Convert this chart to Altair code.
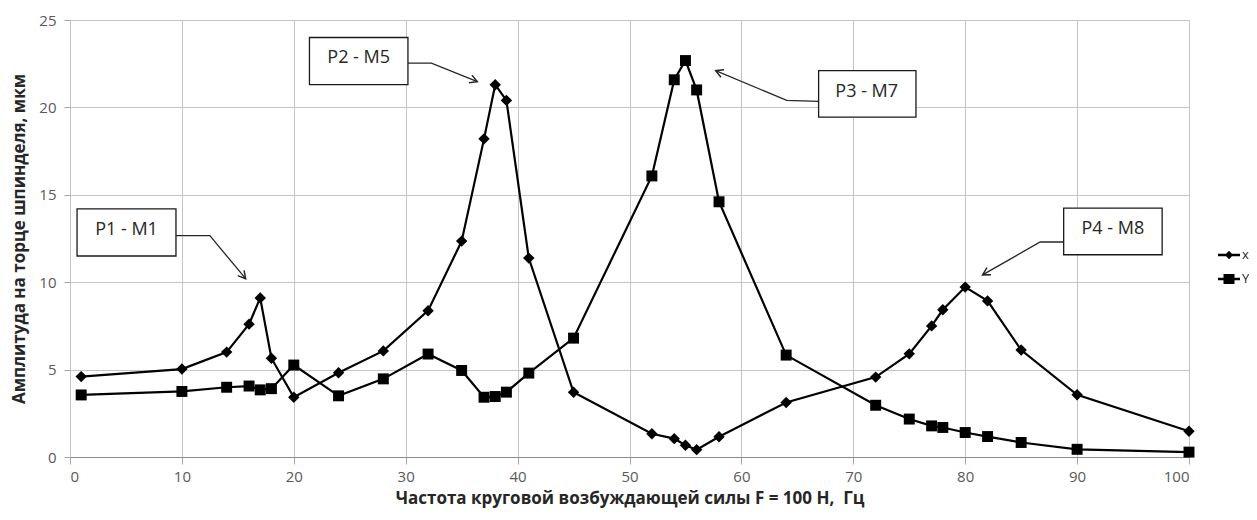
import math
import altair as alt
import pandas as pd

# ---- data ----
freq = [1, 10, 14, 16, 17, 18, 20, 24, 28, 32, 35, 37, 38, 39, 41, 45, 52, 54, 55, 56,
        58, 64, 72, 75, 77, 78, 80, 82, 85, 90, 100]
amp_x = [4.6, 5.03, 6.0, 7.6, 9.1, 5.65, 3.42, 4.82, 6.07, 8.37, 12.35, 18.2, 21.3, 20.4,
         11.38, 3.7, 1.33, 1.05, 0.67, 0.42, 1.16, 3.12, 4.57, 5.9, 7.5, 8.42, 9.72, 8.93,
         6.12, 3.56, 1.47]
amp_y = [3.55, 3.75, 3.99, 4.06, 3.84, 3.91, 5.26, 3.5, 4.47, 5.89, 4.95, 3.42, 3.46, 3.71,
         4.8, 6.8, 16.08, 21.58, 22.68, 21.0, 14.6, 5.83, 2.96, 2.17, 1.78, 1.69, 1.4, 1.17,
         0.83, 0.44, 0.28]
series_names = ["x", "Y"]

x_ticks = list(range(0, 101, 10))
y_ticks = [0, 5, 10, 15, 20, 25]

# annotation callouts (data units)
ann_labels = ["P1 - M1", "P2 - M5", "P3 - M7", "P4 - M8"]
box_x0 = [0.63, 21.4, 66.9, 88.8]
box_x1 = [9.47, 30.2, 75.6, 97.6]
box_y0 = [11.5, 21.3, 19.44, 11.57]
box_y1 = [14.2, 24.0, 22.1, 14.24]
text_x = [5.05, 25.8, 71.2, 93.2]
text_y = [13.0, 22.8, 20.9, 13.05]
lead_x = [[9.47, 12.5, 15.7], [30.2, 32.3, 36.4], [66.9, 64.05, 57.7], [88.8, 86.7, 81.55]]
lead_y = [[12.66, 12.66, 10.2], [22.53, 22.53, 21.47], [20.35, 20.4, 22.1], [12.3, 12.3, 10.42]]

W, H = 1119, 437
XMAX, YMAX = 100, 25
FONT = "Open Sans"

df = pd.DataFrame({
    "freq": freq * 2,
    "amp": amp_x + amp_y,
    "series": [series_names[0]] * len(freq) + [series_names[1]] * len(freq),
})

boxes = pd.DataFrame({"label": ann_labels, "x0": box_x0, "x1": box_x1,
                      "y0": box_y0, "y1": box_y1, "tx": text_x, "ty": text_y})

lead_rows = []
head_rows = []
for i, lab in enumerate(ann_labels):
    for j, (lx, ly) in enumerate(zip(lead_x[i], lead_y[i])):
        lead_rows.append({"label": lab, "o": j, "lx": lx, "ly": ly})
    dx = (lead_x[i][-1] - lead_x[i][-2]) * W / XMAX
    dy = -(lead_y[i][-1] - lead_y[i][-2]) * H / YMAX
    ang = math.degrees(math.atan2(dx, -dy)) % 360
    head_rows.append({"label": lab, "hx": lead_x[i][-1], "hy": lead_y[i][-1], "ang": ang})
leads = pd.DataFrame(lead_rows)
heads = pd.DataFrame(head_rows)

xscale = alt.Scale(domain=[0, XMAX], nice=False, zero=False)
yscale = alt.Scale(domain=[0, YMAX], nice=False)

x_axis = alt.Axis(values=x_ticks,
                  title="Частота круговой возбуждающей силы F = 100 Н,\u00a0 Гц",
                  grid=True, gridColor="#c4c4c4", domainColor="#8c8c8c", tickColor="#a6a6a6",
                  tickSize=7, labelPadding=5, labelFontSize=15, labelColor="#595959",
                  labelFont=FONT, titleFont=FONT, titleFontSize=17, titleFontWeight="bold",
                  titleColor="#262626", titlePadding=6)
y_axis = alt.Axis(values=y_ticks, title="Амплитуда на торце шпинделя, мкм",
                  grid=True, gridColor="#c4c4c4", domain=False, tickColor="#a6a6a6",
                  tickSize=6, labelPadding=8, labelFontSize=15, labelColor="#595959",
                  labelFont=FONT, titleFont=FONT, titleFontSize=17, titleFontWeight="bold",
                  titleColor="#262626", titlePadding=10)

base = alt.Chart(df)
lines = base.mark_line(color="black", strokeWidth=2.2).encode(
    x=alt.X("freq:Q", scale=xscale, axis=x_axis),
    y=alt.Y("amp:Q", scale=yscale, axis=y_axis),
    detail="series:N",
)
pts_x = base.transform_filter(alt.datum.series == "x").mark_point(
    shape="diamond", filled=True, color="black", size=130, opacity=1).encode(
    x="freq:Q", y="amp:Q")
pts_y = base.transform_filter(alt.datum.series == "Y").mark_point(
    shape="square", filled=True, color="black", size=120, opacity=1).encode(
    x="freq:Q", y="amp:Q")

# legend (line + marker symbols, drawn as filled custom paths)
bar = "M-1,-0.12 L1,-0.12 L1,0.12 L-1,0.12 Z "
leg_diamond = bar + "M0,-0.38 L0.38,0 L0,0.38 L-0.38,0 Z"
leg_square = bar + "M-0.5,-0.45 L0.5,-0.45 L0.5,0.45 L-0.5,0.45 Z"
legend_layer = alt.Chart(pd.DataFrame({"series": series_names})).transform_filter(
    "false").mark_point(filled=True, color="black").encode(
    shape=alt.Shape("series:N",
                    scale=alt.Scale(domain=series_names, range=[leg_diamond, leg_square]),
                    legend=alt.Legend(title=None, orient="none", legendX=1148, legendY=224,
                                      symbolSize=484, symbolStrokeWidth=0,
                                      symbolFillColor="black",
                                      symbolOpacity=1, rowPadding=6, labelFontSize=13,
                                      labelFont=FONT, labelColor="#262626", labelOffset=2)),
)

box_marks = alt.Chart(boxes).mark_rect(fill="white", stroke="#1a1a1a", strokeWidth=1.3).encode(
    x="x0:Q", x2="x1", y="y0:Q", y2="y1")
box_text = alt.Chart(boxes).mark_text(font=FONT, fontSize=18, color="#262626").encode(
    x="tx:Q", y="ty:Q", text="label:N")
lead_marks = alt.Chart(leads).mark_line(color="#262626", strokeWidth=1.3).encode(
    x="lx:Q", y="ly:Q", detail="label:N", order="o:Q")
arrow_path = "M-0.55,1 L0,0 L0.55,1"
head_marks = alt.Chart(heads).mark_point(shape=arrow_path, filled=False, color="#262626",
                                         strokeWidth=1.5, size=220, opacity=1).encode(
    x="hx:Q", y="hy:Q", angle=alt.Angle("ang:Q", scale=None))

chart = alt.layer(lines, pts_x, pts_y, lead_marks, head_marks, box_marks, box_text,
                  legend_layer).properties(
    width=W, height=H,
    autosize=alt.AutoSizeParams(type="none"),
    padding={"left": 62, "top": 12, "right": 60, "bottom": 55},
).configure_view(stroke=None).configure(background="white")

chart.save("out.html", embed_options={"renderer": "svg", "actions": False})
